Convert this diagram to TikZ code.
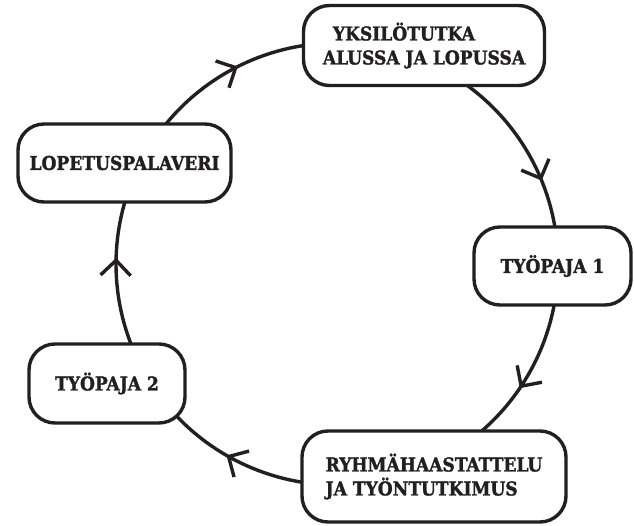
\documentclass[tikz,border=0pt]{standalone}
\usepackage{fontspec}
\newfontfamily\labelfont{DejaVu Serif Condensed Bold}[FakeBold=1.6]
\usetikzlibrary{arrows.meta,decorations.markings,calc}
\definecolor{ink}{HTML}{231F20}
\begin{document}
\begin{tikzpicture}[x=1pt,y=1pt,
  box/.style={draw=ink, line width=3.4pt, fill=white, rounded corners=26pt,
    text=ink, font=\labelfont\fontsize{19}{24}\selectfont, inner sep=0pt},
  conn/.style={draw=ink, line width=3.4pt},
  barb/.style={decoration={markings, mark=at position #1 with
    {\arrow{Straight Barb[length=15pt,width=30pt,line width=3.4pt]}}}, postaction={decorate}}]
\useasboundingbox (0,0) rectangle (634,-526);
\coordinate (O) at (337,-264);
\def\R{221}
\coordinate (pTop) at ($(O)+(68:\R)$);
\coordinate (pT1) at ($(O)+(0:\R)$);
\coordinate (pRy) at ($(O)+(-65.5:\R)$);
\coordinate (pT2) at ($(O)+(210:\R)$);
\coordinate (pLo) at ($(O)+(154.6:\R)$);
% connectors (arcs of one circle)
\draw[conn, barb=0.674] (pTop) arc[start angle=68, end angle=0, radius=\R];
\draw[conn, barb=0.522] (pT1) arc[start angle=0, end angle=-65.5, radius=\R];
\draw[conn, barb=0.645] (pRy) arc[start angle=-65.5, end angle=-150, radius=\R];
\draw[conn, barb=0.570] (pT2) arc[start angle=210, end angle=154.6, radius=\R];
\draw[conn, barb=0.438] (pLo) arc[start angle=154.6, end angle=68, radius=\R];
% nodes
\node[box, minimum width=241pt, minimum height=80pt, align=left] (top) at (424,-45.5)
  {\hspace*{10pt}YKSILÖTUTKA\\ALUSSA JA LOPUSSA};
\node[box, minimum width=213pt, minimum height=78pt] (lop) at (124.5,-163) {LOPETUSPALAVERI};
\node[box, minimum width=157pt, minimum height=78pt] (t1) at (552.5,-266) {TYÖPAJA 1};
\node[box, minimum width=156pt, minimum height=79pt] (t2) at (107,-383.5) {TYÖPAJA 2};
\node[box, minimum width=264pt, minimum height=91pt, align=left] (ryh) at (434,-476.5)
  {RYHMÄHAASTATTELU\\JA TYÖNTUTKIMUS};
\end{tikzpicture}
\end{document}
